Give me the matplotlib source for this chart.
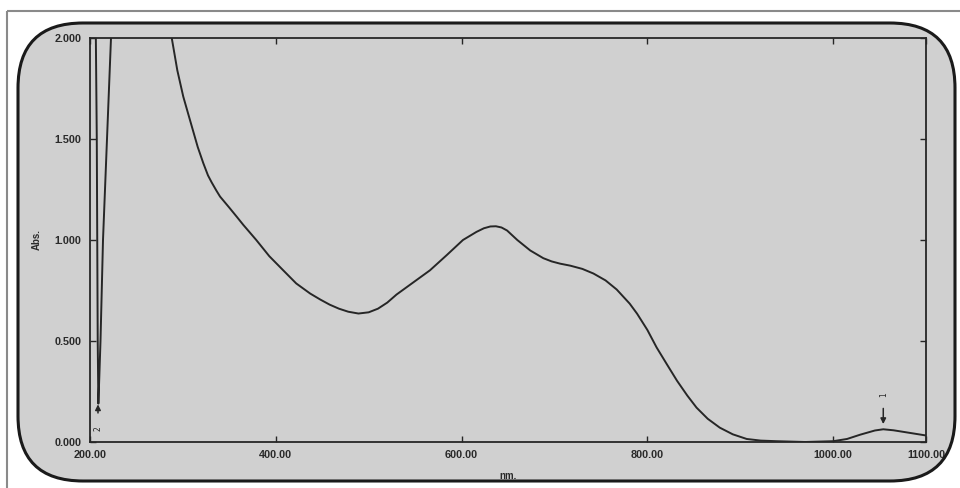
import numpy as np
import matplotlib
matplotlib.use("Agg")
import matplotlib.pyplot as plt
from matplotlib.patches import FancyBboxPatch, Rectangle

# spectrum (nm, Abs); values above 2.0 run off the top of the chart
wavelength = [200, 204, 206.3, 207.3, 207.8, 208.3, 209.0, 210.0, 211.3, 214.0,
              218.3, 222.6, 230, 260, 280, 288, 294, 300.4, 306, 311,
              316, 322, 327, 331, 336, 340, 350, 358, 365, 379,
              393, 408, 422, 437, 448, 458, 468, 478, 489, 500,
              510, 520, 530, 548, 566, 584, 601.5, 616, 624, 631,
              637, 643, 649, 660, 674, 688, 697, 706, 717, 730,
              742, 755, 767, 781, 789, 800, 810, 821, 832, 843,
              853, 865, 878, 892, 907, 922, 939, 970, 1000, 1015,
              1029, 1045, 1054, 1065, 1080, 1099]
absorbance = [2.6, 2.4, 2.0, 1.5, 1.0, 0.5, 0.19, 0.32, 0.5, 1.0,
              1.5, 2.0, 2.4, 2.6, 2.3, 2.0, 1.84, 1.71, 1.62, 1.54,
              1.46, 1.38, 1.32, 1.285, 1.245, 1.215, 1.16, 1.115, 1.075, 1.0,
              0.92, 0.85, 0.785, 0.735, 0.705, 0.68, 0.66, 0.645, 0.636, 0.642,
              0.66, 0.69, 0.73, 0.79, 0.85, 0.925, 1.0, 1.04, 1.058, 1.067,
              1.068, 1.062, 1.047, 1.0, 0.948, 0.91, 0.894, 0.883, 0.873, 0.857,
              0.834, 0.8, 0.755, 0.685, 0.635, 0.555, 0.468, 0.385, 0.303, 0.23,
              0.17, 0.115, 0.071, 0.038, 0.015, 0.007, 0.004, 0.0, 0.004, 0.015,
              0.036, 0.057, 0.063, 0.058, 0.047, 0.033]

x_ticks = [200, 400, 600, 800, 1000, 1100]
x_labels = ["200.00", "400.00", "600.00", "800.00", "1000.00", "1100.00"]
y_ticks = [0.0, 0.5, 1.0, 1.5, 2.0]
y_labels = ["0.000", "0.500", "1.000", "1.500", "2.000"]

# peak pick markers: (label, nm, arrow tail, arrow head, label y)
markers = [("2", 208.6, 0.13, 0.2, 0.065), ("1", 1054, 0.18, 0.075, 0.235)]

paper = "#d0d0d0"
ink = "#262626"
txt = "#2a2a2a"

fig = plt.figure(figsize=(9.6, 4.88), dpi=100)

# background: page edge and rounded frame, in pixel units
bg = fig.add_axes([0, 0, 1, 1], zorder=0)
bg.set_xlim(0, 960)
bg.set_ylim(488, 0)
bg.axis("off")
bg.add_patch(Rectangle((7, 11), 960, 490, fill=False, ec="#8a8a8a", lw=1.5))
bg.add_patch(FancyBboxPatch((18 + 65, 23 + 65), 937 - 130, 458 - 130,
                            boxstyle="round,pad=65", fc=paper, ec="none"))

ax = fig.add_axes([90 / 960, 46 / 488, 836 / 960, 404 / 488], zorder=1)
ax.patch.set_alpha(0)
ax.plot(wavelength, absorbance, color=ink, lw=1.4, solid_joinstyle="round")
ax.set_xlim(200, 1100)
ax.set_ylim(0, 2.0)

ax.set_xticks(x_ticks)
ax.set_xticklabels(x_labels)
ax.set_yticks(y_ticks)
ax.set_yticklabels(y_labels)
ax.tick_params(direction="in", length=4, width=1, color=ink,
               top=True, right=True, labelsize=7.8, labelcolor=txt, pad=6)
for lab in ax.get_xticklabels() + ax.get_yticklabels():
    lab.set_fontweight("bold")
    lab.set_family("Liberation Sans")
for s in ax.spines.values():
    s.set_color(ink)
    s.set_linewidth(1.3)

ax.set_xlabel("nm.", fontsize=7, fontweight="bold", color=txt, labelpad=8,
              family="Liberation Sans")
ax.set_ylabel("Abs.", fontsize=7, fontweight="bold", color=txt, labelpad=9,
              family="Liberation Sans")

for name, nm, tail, head, ly in markers:
    ax.annotate("", xy=(nm, head), xytext=(nm, tail),
                arrowprops=dict(arrowstyle="-|>", color=ink, lw=1.1, mutation_scale=8))
    ax.text(nm, ly, name, rotation=90, fontsize=5.5, ha="center", va="center", color=ink)

# frame outline on top so the last label tucks under it
fg = fig.add_axes([0, 0, 1, 1], zorder=2)
fg.set_xlim(0, 960)
fg.set_ylim(488, 0)
fg.axis("off")
fg.patch.set_alpha(0)
fg.add_patch(FancyBboxPatch((18 + 65, 23 + 65), 937 - 130, 458 - 130,
                            boxstyle="round,pad=65", fc="none", ec="#1a1a1a", lw=2.2))

fig.savefig("out.png", dpi=100)
